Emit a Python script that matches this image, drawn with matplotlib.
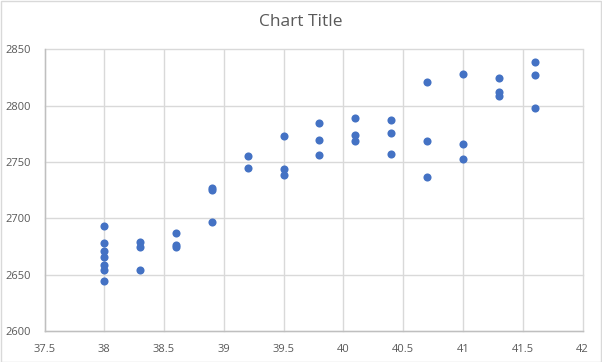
import matplotlib
matplotlib.use("Agg")
import matplotlib.pyplot as plt
from matplotlib.patches import Rectangle

# Data
x_vals = [38, 38, 38, 38, 38, 38, 38,
          38.3, 38.3, 38.3,
          38.6, 38.6, 38.6,
          38.9, 38.9, 38.9,
          39.2, 39.2,
          39.5, 39.5, 39.5,
          39.8, 39.8, 39.8,
          40.1, 40.1, 40.1,
          40.4, 40.4, 40.4,
          40.7, 40.7, 40.7,
          41.0, 41.0, 41.0,
          41.3, 41.3, 41.3,
          41.6, 41.6, 41.6]
y_vals = [2693, 2678, 2671, 2666, 2659, 2654, 2644,
          2679, 2675, 2654,
          2687, 2676, 2675,
          2727, 2725, 2697,
          2755, 2744.5,
          2773, 2743.5, 2738.5,
          2785, 2770, 2756,
          2789, 2774, 2769,
          2787, 2775.5, 2757,
          2821, 2768.5, 2736.5,
          2828, 2766, 2752.5,
          2824.5, 2812, 2808.5,
          2838.5, 2827, 2798]

x_ticks = [37.5, 38, 38.5, 39, 39.5, 40, 40.5, 41, 41.5, 42]
x_labels = ["37.5", "38", "38.5", "39", "39.5", "40", "40.5", "41", "41.5", "42"]
y_ticks = [2600, 2650, 2700, 2750, 2800, 2850]
y_labels = ["2600", "2650", "2700", "2750", "2800", "2850"]
title = "Chart Title"

plt.rcParams['font.family'] = ['Open Sans', 'DejaVu Sans']

fig = plt.figure(figsize=(6.02, 3.62), dpi=100)
fig.patch.set_facecolor("white")
ax = fig.add_axes([44.5 / 602, 1 - 331 / 362, (582.5 - 44.5) / 602, (331 - 49.5) / 362])

ax.scatter(x_vals, y_vals, s=34, color="#4472C4", zorder=3, linewidths=0)

ax.set_xlim(37.5, 42)
ax.set_ylim(2600, 2850)
ax.set_xticks(x_ticks)
ax.set_xticklabels(x_labels)
ax.set_yticks(y_ticks)
ax.set_yticklabels(y_labels)
ax.grid(True, color="#d9d9d9", linewidth=1, zorder=0)
for gl in ax.get_xgridlines() + ax.get_ygridlines():
    gl.set_clip_on(False)
ax.set_axisbelow(True)
ax.tick_params(axis="both", length=0, labelsize=8, colors="#595959", pad=9)
ax.tick_params(axis="y", pad=10)
for side in ["top", "right"]:
    ax.spines[side].set_visible(False)
for side in ["left", "bottom"]:
    ax.spines[side].set_color("#bfbfbf")
    ax.spines[side].set_linewidth(1)

fig.text(0.5, 1 - 22 / 362, title, ha="center", va="center", fontsize=12.5, color="#595959")

fig.patches.append(Rectangle((0.001, 0.001), 0.997, 0.996, transform=fig.transFigure,
                             fill=False, edgecolor="#d9d9d9", linewidth=1))

fig.savefig("out.png", dpi=100, facecolor="white")
